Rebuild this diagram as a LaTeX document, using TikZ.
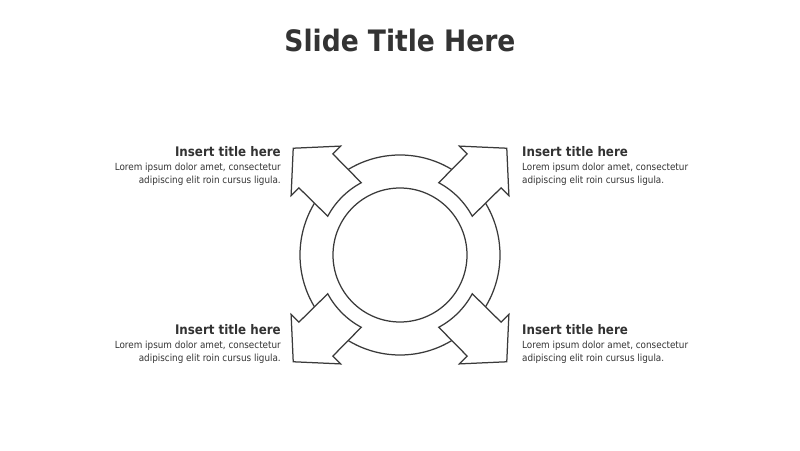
\documentclass[tikz,border=0pt]{standalone}
\usepackage{fontspec}
\setmainfont{DejaVu Sans Condensed}
\definecolor{ink}{HTML}{3A3A3A}
\definecolor{txt}{HTML}{333333}
\tikzset{
  ring/.style={draw=ink, line width=1.25pt},
  arrowhead/.style={fill=white, draw=ink, line width=1.25pt, line join=miter},
  head/.style={inner sep=0, text=txt, font=\fontsize{13.2}{15}\selectfont\bfseries},
  body/.style={inner sep=0, text=txt, font=\fontsize{9.8}{12.7}\selectfont}
}
\begin{document}
\begin{tikzpicture}[x=1pt, y=1pt]
    \useasboundingbox (0, 0) rectangle (800, 450);

    \node[anchor=base, inner sep=0, text=txt, font=\fontsize{29.5}{34}\selectfont\bfseries] (title) at (400, 398.5) {Slide Title Here};

    \coordinate (c) at (400, 195);
    \draw[ring] (c) circle[radius=100];
    \draw[ring] (c) circle[radius=67];

    % four arrows leaving the ring
    \begin{scope}[shift={(c)}, rotate=135]
      \draw[arrowhead] (-16.8:82) -- (119, -24) -- (119, -35) -- (151, 0) -- (119, 35) -- (119, 24) -- (16.8:82) arc[start angle=16.8, end angle=-16.8, radius=82] -- cycle;
    \end{scope}
    \begin{scope}[shift={(c)}, rotate=45]
      \draw[arrowhead] (-16.8:82) -- (119, -24) -- (119, -35) -- (151, 0) -- (119, 35) -- (119, 24) -- (16.8:82) arc[start angle=16.8, end angle=-16.8, radius=82] -- cycle;
    \end{scope}
    \begin{scope}[shift={(c)}, rotate=225]
      \draw[arrowhead] (-16.8:82) -- (119, -24) -- (119, -35) -- (151, 0) -- (119, 35) -- (119, 24) -- (16.8:82) arc[start angle=16.8, end angle=-16.8, radius=82] -- cycle;
    \end{scope}
    \begin{scope}[shift={(c)}, rotate=315]
      \draw[arrowhead] (-16.8:82) -- (119, -24) -- (119, -35) -- (151, 0) -- (119, 35) -- (119, 24) -- (16.8:82) arc[start angle=16.8, end angle=-16.8, radius=82] -- cycle;
    \end{scope}

    % texts
    \node[head, anchor=base east] (tl head) at (281, 293.3) {Insert title here};
    \node[body, anchor=north east, align=right] (tl body) at (281, 286.8) {Lorem ipsum dolor amet, consectetur\\adipiscing elit roin cursus ligula.};
    \node[head, anchor=base west] (tr head) at (522, 293.3) {Insert title here};
    \node[body, anchor=north west, align=left] (tr body) at (522, 286.8) {Lorem ipsum dolor amet, consectetur\\adipiscing elit roin cursus ligula.};
    \node[head, anchor=base east] (bl head) at (281, 115.3) {Insert title here};
    \node[body, anchor=north east, align=right] (bl body) at (281, 108.8) {Lorem ipsum dolor amet, consectetur\\adipiscing elit roin cursus ligula.};
    \node[head, anchor=base west] (br head) at (522, 115.3) {Insert title here};
    \node[body, anchor=north west, align=left] (br body) at (522, 108.8) {Lorem ipsum dolor amet, consectetur\\adipiscing elit roin cursus ligula.};
  \end{tikzpicture}
\end{document}
